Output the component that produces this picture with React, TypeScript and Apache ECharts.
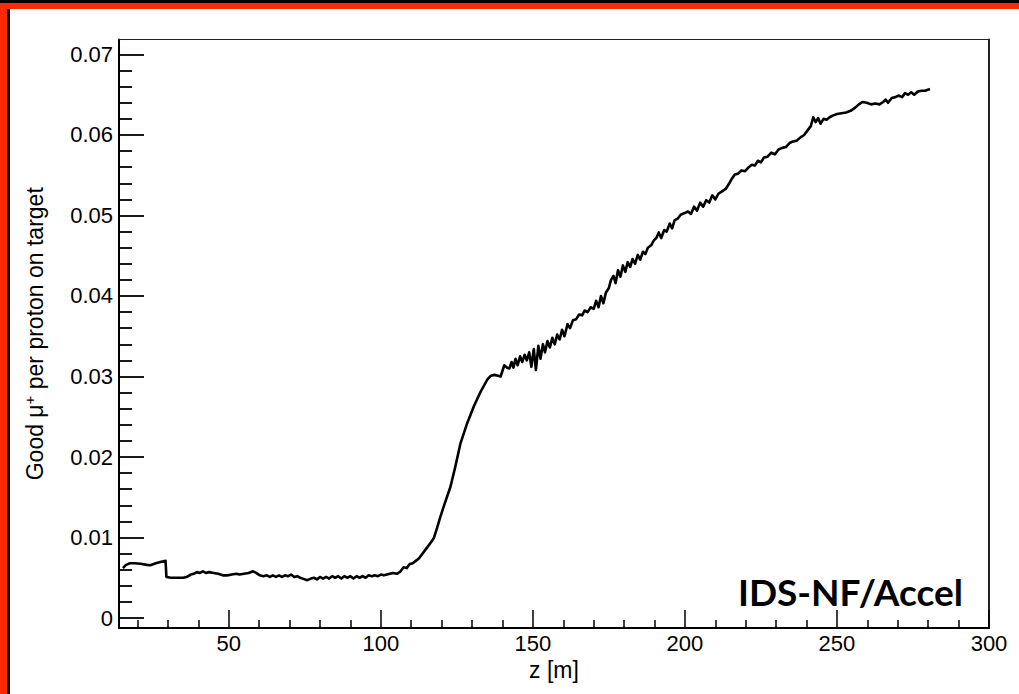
import React, { useEffect, useRef } from "react";
import * as echarts from "echarts";

// z positions along the channel [m]
const zPositions: number[] = [
  15.2, 16.2, 17.5, 19, 21, 23, 24.2, 26, 27.8, 29.2, 29.5, 31, 33, 35, 36.2, 37.5, 38.5, 39.5, 40.5, 41.5,
  42.5, 43.5, 45, 46.5, 48, 49.5, 51, 52.5, 53.5, 55, 56.5, 58, 59, 60.2, 61.4, 62.5, 63.5, 64.5, 65.5, 66.5,
  67.5, 68.5, 69.5, 70.5, 71.5, 72.5, 73.5, 75, 75.8, 77, 78, 79, 80, 81, 82, 83, 84, 85, 86, 87,
  88, 89, 90, 91, 92, 93, 94, 95, 96, 97, 98, 99, 100, 101, 102, 103, 104, 105.4, 106.5, 107.5,
  108.5, 109.5, 110.5, 111.5, 112.5, 113.5, 114.5, 115.5, 116.5, 117.4, 118.5, 119.6, 121, 122.9, 124.5, 126.2, 128.4, 130.6, 132.8, 135,
  136.2, 137.4, 138.5, 139.4, 140.6, 141.5, 142.3, 143, 143.6, 144.3, 145, 145.8, 146.5, 147.3, 148, 148.8, 149.5, 150.3, 151, 151.8,
  152.5, 153.3, 154, 154.8, 155.6, 156.4, 157.2, 158, 158.8, 159.6, 160.4, 161.4, 162.2, 163.2, 164.2, 165.2, 166.2, 167, 168, 169,
  170, 170.8, 171.6, 172.4, 173.2, 174, 175, 175.7, 176.5, 177.2, 178, 178.8, 179.6, 180.4, 181.2, 182, 182.8, 183.6, 184.5, 185.3,
  186.2, 187, 187.8, 188.9, 189.8, 190.6, 191.4, 192.2, 193.2, 194, 195, 195.8, 196.6, 197.6, 198.6, 199.9, 201, 202, 203, 204,
  205, 206, 207, 208, 209, 210, 211, 212.2, 213.4, 214.6, 215.5, 216.4, 217.5, 218.6, 219.8, 221, 222, 223, 224, 225,
  226, 227.2, 228.4, 229.6, 230.8, 232, 233.2, 234.4, 235.6, 236.8, 238, 239.2, 240.4, 241.4, 242.2, 243, 243.8, 244.6, 245.6, 246.6,
  247.6, 248.6, 250, 251.5, 253, 254.5, 256, 257.2, 258.4, 259.8, 261.2, 262.6, 264, 265.2, 266, 266.8, 268, 269.2, 270.4, 271.4,
  272.4, 273.4, 274.4, 275.4, 276.6, 277.8, 279, 280.6,
];

// Good mu+ per proton on target
const goodMuonYield: number[] = [
  0.0062, 0.0066, 0.0068, 0.0068, 0.00675, 0.0066, 0.00655, 0.0068, 0.007, 0.0071, 0.0051, 0.005, 0.005, 0.005, 0.0051, 0.0054, 0.0055, 0.0057, 0.0056, 0.0058,
  0.0056, 0.0057, 0.0056, 0.0055, 0.0053, 0.0053, 0.0054, 0.0055, 0.0054, 0.0055, 0.0056, 0.0058, 0.0056, 0.0053, 0.0052, 0.0053, 0.0051, 0.0053, 0.0051, 0.0053,
  0.0051, 0.0053, 0.0052, 0.0054, 0.0051, 0.0052, 0.005, 0.0048, 0.0047, 0.0049, 0.005, 0.0048, 0.0051, 0.0049, 0.0051, 0.0049, 0.0052, 0.005, 0.0052, 0.0049,
  0.0052, 0.005, 0.0052, 0.0049, 0.0052, 0.005, 0.0052, 0.005, 0.0053, 0.0052, 0.0053, 0.0052, 0.0054, 0.0053, 0.0054, 0.0055, 0.0056, 0.0055, 0.0058, 0.0063,
  0.0062, 0.0067, 0.0068, 0.0071, 0.0074, 0.0079, 0.0084, 0.0089, 0.0094, 0.0099, 0.0112, 0.0126, 0.0142, 0.0163, 0.0188, 0.0217, 0.0242, 0.0263, 0.0281, 0.0296,
  0.0301, 0.0302, 0.0301, 0.03, 0.0314, 0.0311, 0.031, 0.0318, 0.0311, 0.0322, 0.0314, 0.0325, 0.0318, 0.0327, 0.032, 0.033, 0.0312, 0.0334, 0.0308, 0.0338,
  0.0322, 0.034, 0.033, 0.0344, 0.0336, 0.0348, 0.034, 0.0352, 0.0346, 0.0358, 0.035, 0.0365, 0.036, 0.037, 0.0371, 0.0377, 0.0376, 0.0382, 0.038, 0.0386,
  0.0384, 0.0394, 0.0386, 0.04, 0.0391, 0.0404, 0.041, 0.042, 0.0425, 0.0416, 0.0432, 0.0424, 0.0438, 0.043, 0.0442, 0.0436, 0.0446, 0.044, 0.0451, 0.0445,
  0.0455, 0.0452, 0.046, 0.0463, 0.0469, 0.0472, 0.0479, 0.0472, 0.0482, 0.048, 0.049, 0.0484, 0.0494, 0.0496, 0.0501, 0.0503, 0.0505, 0.0502, 0.0511, 0.0506,
  0.0516, 0.0511, 0.0519, 0.0516, 0.0525, 0.052, 0.0527, 0.053, 0.0533, 0.054, 0.0546, 0.0551, 0.0552, 0.0556, 0.0555, 0.056, 0.0563, 0.0562, 0.0568, 0.0566,
  0.0572, 0.0573, 0.0578, 0.0576, 0.0582, 0.0584, 0.0585, 0.059, 0.0592, 0.0593, 0.0597, 0.06, 0.0606, 0.0611, 0.0622, 0.0616, 0.0621, 0.0614, 0.062, 0.0619,
  0.0622, 0.0624, 0.0626, 0.0627, 0.0628, 0.063, 0.0634, 0.0638, 0.0641, 0.064, 0.0638, 0.0639, 0.0638, 0.0641, 0.0644, 0.064, 0.0646, 0.0647, 0.0649, 0.0647,
  0.0652, 0.065, 0.0653, 0.065, 0.0654, 0.0655, 0.0655, 0.0657,
];

const xMajorTicks: number[] = [50, 100, 150, 200, 250, 300];
const xMinorTicks: number[] = [20, 30, 40, 60, 70, 80, 90, 110, 120, 130, 140, 160, 170, 180, 190, 210, 220, 230, 240, 260, 270, 280, 290];
const yMajorTicks: number[] = [0, 0.01, 0.02, 0.03, 0.04, 0.05, 0.06, 0.07];
const yMinorTicks: number[] = [
  0.002, 0.004, 0.006, 0.008, 0.012, 0.014, 0.016, 0.018, 0.022, 0.024, 0.026, 0.028,
  0.032, 0.034, 0.036, 0.038, 0.042, 0.044, 0.046, 0.048, 0.052, 0.054, 0.056, 0.058,
  0.062, 0.064, 0.066, 0.068,
];

const X_MIN = 13.9;
const X_MAX = 300;
const Y_MIN = -0.00124;
const Y_MAX = 0.07186;

const RED = "#ff2a04";
const FONT = "'Liberation Sans', Arial, Helvetica, sans-serif";

export default function App() {
  const ref = useRef<HTMLDivElement>(null);

  useEffect(() => {
    if (!ref.current) return;
    const chart = echarts.init(ref.current, null, { renderer: "svg" });
    const seriesData = zPositions.map((z, i) => [z, goodMuonYield[i]]);

    const baseX = { type: "value", min: X_MIN, max: X_MAX, splitLine: { show: false } };
    const baseY = { type: "value", min: Y_MIN, max: Y_MAX, splitLine: { show: false } };

    chart.setOption({
      animation: false,
      backgroundColor: "#ffffff",
      grid: { left: 119, top: 39.5, right: 30, bottom: 66, containLabel: false },
      xAxis: [
        {
          ...baseX,
          position: "bottom",
          name: "z [m]",
          nameLocation: "middle",
          nameGap: 28,
          nameTextStyle: { fontFamily: FONT, fontSize: 23, color: "#000" },
          axisLine: { show: true, onZero: false, lineStyle: { color: "#000", width: 2 } },
          axisTick: {
            show: true,
            inside: true,
            length: 18,
            customValues: xMajorTicks,
            lineStyle: { color: "#000", width: 1.5 },
          },
          axisLabel: {
            show: true,
            customValues: xMajorTicks,
            margin: 4,
            fontFamily: FONT,
            fontSize: 22,
            color: "#000",
          },
        },
        {
          ...baseX,
          position: "bottom",
          axisLine: { show: false, onZero: false },
          axisLabel: { show: false },
          axisTick: {
            show: true,
            inside: true,
            length: 8,
            customValues: xMinorTicks,
            lineStyle: { color: "#000", width: 1.5 },
          },
        },
        {
          ...baseX,
          position: "top",
          axisLine: { show: true, onZero: false, lineStyle: { color: "#222", width: 1.2 } },
          axisLabel: { show: false },
          axisTick: { show: false },
        },
      ],
      yAxis: [
        {
          ...baseY,
          position: "left",
          name: "{t|Good μ}{s|+}{t| per proton on target}",
          nameLocation: "middle",
          nameRotate: 90,
          nameGap: 72,
          nameTextStyle: {
            fontFamily: FONT,
            fontSize: 23,
            color: "#000",
            rich: {
              t: { fontFamily: FONT, fontSize: 23, color: "#000" },
              s: { fontFamily: FONT, fontSize: 15, color: "#000", verticalAlign: "top", padding: [0, 0, 10, 0] },
            },
          },
          axisLine: { show: true, onZero: false, lineStyle: { color: "#000", width: 2 } },
          axisTick: {
            show: true,
            inside: true,
            length: 25,
            customValues: yMajorTicks,
            lineStyle: { color: "#000", width: 1.8 },
          },
          axisLabel: {
            show: true,
            customValues: yMajorTicks,
            margin: 6,
            fontFamily: FONT,
            fontSize: 22,
            color: "#000",
            formatter: (v: number) => (Math.abs(v) < 1e-9 ? "0" : v.toFixed(2)),
          },
        },
        {
          ...baseY,
          position: "left",
          axisLine: { show: false, onZero: false },
          axisLabel: { show: false },
          axisTick: {
            show: true,
            inside: true,
            length: 13,
            customValues: yMinorTicks,
            lineStyle: { color: "#000", width: 1.8 },
          },
        },
        {
          ...baseY,
          position: "right",
          axisLine: { show: true, onZero: false, lineStyle: { color: "#222", width: 2 } },
          axisLabel: { show: false },
          axisTick: { show: false },
        },
      ],
      series: [
        {
          type: "line",
          xAxisIndex: 0,
          yAxisIndex: 0,
          data: seriesData,
          showSymbol: false,
          symbol: "none",
          lineStyle: { color: "#000", width: 2.6, join: "round" },
          silent: true,
        },
      ],
      graphic: [
        { type: "rect", shape: { x: 0, y: 0, width: 7, height: 694 }, style: { fill: RED } },
        { type: "rect", shape: { x: 7, y: 9, width: 3, height: 685 }, style: { fill: "#000" } },
        { type: "rect", shape: { x: 0, y: 3, width: 1019, height: 6 }, style: { fill: RED } },
        { type: "rect", shape: { x: 0, y: 0, width: 1019, height: 3 }, style: { fill: "#000" } },
        {
          type: "text",
          x: 963,
          y: 591,
          style: {
            text: "IDS-NF/Accel",
            fontFamily: "Lato, 'Open Sans', sans-serif",
            fontWeight: "bold",
            fontSize: 37,
            fill: "#000",
            align: "right",
            verticalAlign: "middle",
          },
        },
      ],
    });

    return () => chart.dispose();
  }, []);

  return (
    <div
      ref={ref}
      style={{ position: "fixed", left: 0, top: 0, width: 1019, height: 694, background: "#fff" }}
    />
  );
}
